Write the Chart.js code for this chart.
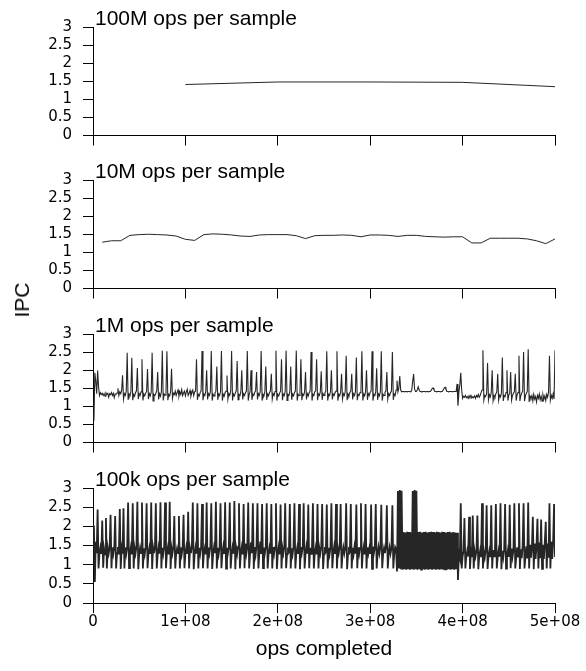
<!DOCTYPE html>
<html><head><meta charset="utf-8">
<script src="https://cdn.jsdelivr.net/npm/chart.js@4.4.1/dist/chart.umd.min.js"></script>
<style>
html,body{margin:0;padding:0;background:#fff;width:586px;height:671px;overflow:hidden;}
.panel{position:absolute;left:0;width:586px;}
#ipc{position:absolute;left:22px;top:300px;transform:translate(-50%,-50%) rotate(-90deg);font:21px "Liberation Sans",Arial,sans-serif;color:#000;white-space:nowrap;}
</style></head><body>
<div class="panel" style="top:0px;height:154px"><canvas id="c0"></canvas></div>
<div class="panel" style="top:153px;height:154px"><canvas id="c1"></canvas></div>
<div class="panel" style="top:307px;height:154px"><canvas id="c2"></canvas></div>
<div class="panel" style="top:461px;height:208px"><canvas id="c3"></canvas></div>
<div id="ipc">IPC</div>
<script>
const panelTitles = ["100M ops per sample","10M ops per sample","1M ops per sample","100k ops per sample"];
const xTickLabels = ["0","1e+08","2e+08","3e+08","4e+08","5e+08"];
const yTickLabels = ["0","0.5","1","1.5","2","2.5","3"];
const xAxisTitle = "ops completed";
const yAxisTitle = "IPC";

// ops per plotted sample for each panel
const sampleSteps = [1e8, 1e7, 1e6, 1e6];

const ipc100M = [1.41,1.48,1.48,1.47,1.35];

const ipc10M = [
1.28,1.32,1.32,1.47,1.49,1.50,1.49,1.48,1.45,1.36,
1.33,1.49,1.51,1.50,1.48,1.45,1.44,1.48,1.49,1.49,
1.49,1.46,1.38,1.46,1.47,1.47,1.48,1.47,1.43,1.48,
1.48,1.47,1.44,1.47,1.47,1.44,1.43,1.42,1.43,1.43,
1.26,1.26,1.39,1.39,1.39,1.39,1.37,1.32,1.24,1.37];

const ipc1M = [
0.6,1.93,1.7,1.35,1.99,1.55,1.3,1.38,1.33,1.36,
1.3,1.35,1.28,1.37,1.33,1.36,1.25,1.35,1.32,1.38,
1.3,1.36,1.24,1.34,1.33,1.37,1.5,1.3,1.4,1.35,
1.45,1.86,1.2,1.35,1.3,1.42,2.48,1.18,1.34,1.3,
1.4,2.34,1.17,1.33,1.28,1.38,1.42,2.06,1.2,1.35,
1.3,1.4,2.3,1.16,1.34,1.29,1.37,1.41,2.03,1.2,
1.35,1.29,1.39,2.48,1.15,1.33,1.3,1.36,1.43,1.95,
1.19,1.35,1.28,1.4,2.54,1.16,1.34,1.31,1.4,2.52,
1.17,1.33,1.29,1.41,2.04,1.22,1.36,1.32,1.42,1.3,
1.38,1.45,1.28,1.4,1.33,1.46,1.3,1.37,1.42,1.29,
1.4,1.47,1.3,1.36,1.44,1.28,1.38,1.45,1.3,1.4,
1.42,2.3,1.18,1.33,1.29,1.38,1.43,2.53,1.17,1.34,
1.3,1.41,2.0,1.19,1.35,1.3,1.4,2.53,1.16,1.33,
1.29,1.37,1.42,2.1,1.18,1.34,1.3,1.41,2.53,1.16,
1.33,1.28,1.38,1.42,1.85,1.2,1.35,1.3,1.42,2.53,
1.16,1.34,1.29,1.37,1.43,2.25,1.18,1.33,1.3,1.4,
2.0,1.19,1.35,1.3,1.38,1.42,2.53,1.16,1.33,1.4,
2.0,1.18,1.34,1.3,1.39,1.43,1.95,1.19,1.35,1.3,
1.41,2.53,1.16,1.33,1.3,1.4,2.1,1.18,1.34,1.29,
1.38,1.42,1.9,1.2,1.35,1.3,1.41,2.54,1.16,1.33,
1.29,1.37,1.42,2.3,1.17,1.34,1.3,1.41,2.54,1.16,
1.33,1.3,1.4,2.1,1.18,1.34,1.29,1.38,1.42,2.54,
1.16,1.33,1.3,1.41,2.3,1.17,1.34,1.3,1.4,1.95,
1.19,1.35,1.29,1.38,1.42,2.5,1.16,1.33,1.3,1.4,
1.43,2.3,1.17,1.34,1.3,1.4,1.97,1.18,1.35,1.3,
1.38,1.42,2.52,1.16,1.33,1.3,1.41,2.0,1.19,1.34,
1.3,1.38,1.42,2.52,1.16,1.33,1.29,1.4,1.9,1.2,
1.35,1.3,1.41,2.4,1.17,1.34,1.29,1.38,1.42,1.9,
1.19,1.35,1.3,1.4,2.35,1.17,1.33,1.3,1.38,1.42,
2.52,1.16,1.34,1.29,1.41,2.0,1.18,1.35,1.3,1.39,
1.42,2.52,1.16,1.33,1.3,1.4,2.05,1.18,1.34,1.29,
1.41,2.52,1.16,1.33,1.3,1.39,1.42,1.95,1.2,1.35,
1.3,1.38,1.42,2.5,1.18,1.34,1.3,1.45,1.71,1.4,
1.5,1.84,1.45,1.4,1.41,1.41,1.4,1.41,1.41,1.4,
1.41,1.41,1.41,1.4,1.45,1.7,1.89,1.48,1.41,1.41,
1.46,1.54,1.45,1.41,1.41,1.4,1.41,1.41,1.41,1.4,
1.41,1.41,1.4,1.41,1.41,1.44,1.49,1.51,1.46,1.41,
1.41,1.4,1.41,1.41,1.41,1.4,1.41,1.41,1.45,1.5,
1.53,1.47,1.41,1.41,1.4,1.41,1.41,1.41,1.4,1.41,
1.41,1.41,1.41,1.62,1.02,1.4,1.6,1.93,1.45,1.22,
1.28,1.25,1.3,1.24,1.27,1.22,1.29,1.25,1.3,1.23,
1.27,1.24,1.29,1.22,1.3,1.26,1.33,1.25,1.3,1.38,
1.45,2.55,1.17,1.3,1.27,1.36,2.2,1.18,1.32,1.26,
1.38,2.0,1.16,1.3,1.25,1.35,1.4,1.9,1.17,1.31,
1.26,1.37,2.35,1.15,1.3,1.27,1.38,2.0,1.16,1.31,
1.36,1.95,1.17,1.3,1.36,1.4,1.9,1.16,1.32,1.38,
2.4,1.15,1.3,1.37,1.42,2.5,1.14,1.29,1.36,1.41,
2.58,1.12,1.28,1.22,1.3,1.15,1.33,1.2,1.27,1.12,
1.3,1.22,1.34,1.18,1.28,1.14,1.32,1.2,1.29,1.16,
1.33,1.25,1.4,2.4,1.17,1.3,1.22,1.35,1.2,2.55];

// 100k-ops panel at one value per 1M ops
const ipc100k = [
2.02,0.55,1.6,1.3,2.44,0.9,1.3,1.45,1.28,2.15,
0.92,1.42,1.27,2.22,0.9,1.44,1.29,1.43,2.3,0.91,
1.45,1.28,1.44,2.27,0.9,1.3,1.46,1.27,2.45,0.89,
1.43,1.29,2.47,0.9,1.45,1.28,1.44,2.62,0.91,1.3,
1.46,1.27,2.6,0.9,1.44,1.29,1.47,2.64,0.88,1.28,
1.45,1.3,2.62,0.9,1.43,1.27,1.46,2.6,0.91,1.29,
1.44,1.28,2.62,0.89,1.45,1.3,1.43,2.6,0.9,1.27,
1.46,1.29,2.63,0.9,1.44,1.28,1.47,2.62,0.91,1.3,
1.45,1.27,2.64,0.89,1.44,1.29,1.46,2.27,0.9,1.28,
1.43,1.3,2.27,0.9,1.45,1.27,1.44,2.3,0.91,1.29,
1.46,1.28,2.38,0.9,1.43,1.3,1.47,2.62,0.88,1.27,
1.45,1.29,2.6,0.9,1.44,1.28,1.46,2.58,0.91,1.3,
1.43,1.27,2.62,0.9,1.45,1.29,1.48,2.6,0.89,1.28,
1.46,1.3,2.64,0.9,1.44,1.27,1.45,2.6,0.91,1.29,
1.47,1.28,2.63,0.9,1.44,1.3,1.46,2.62,0.9,1.27,
1.45,1.29,2.66,0.88,1.43,1.28,1.47,2.6,0.9,1.3,
1.46,1.27,2.58,0.91,1.55,1.29,1.45,2.62,0.9,1.28,
1.58,1.3,2.6,0.89,1.46,1.27,1.5,2.6,0.9,1.29,
1.6,1.28,2.58,0.91,1.45,1.3,1.47,2.6,0.9,1.27,
1.44,1.29,2.58,0.9,1.46,1.28,1.45,2.6,0.89,1.3,
1.47,1.27,2.57,0.9,1.44,1.29,1.46,2.6,0.91,1.28,
1.45,1.3,2.58,0.9,1.43,1.27,1.47,2.6,0.9,1.29,
1.44,1.28,2.58,0.88,1.46,1.3,1.45,2.6,0.9,1.27,
1.47,1.29,2.57,0.91,1.44,1.28,1.46,2.6,0.9,1.3,
1.45,1.27,2.58,0.9,1.43,1.29,1.47,2.58,0.89,1.28,
1.46,1.3,2.57,0.9,1.44,1.27,1.45,2.6,0.91,1.29,
1.47,1.28,2.58,0.9,1.44,1.3,1.46,2.58,0.9,1.27,
1.45,1.29,1.43,2.6,0.88,1.28,1.46,1.3,2.58,0.9,
1.44,1.27,1.47,1.29,2.57,0.91,1.45,1.28,1.44,2.6,
0.9,1.3,1.46,1.27,2.58,0.9,1.45,1.29,1.43,1.28,
2.57,0.89,1.47,1.3,1.44,2.58,0.9,1.27,1.46,1.29,
1.45,2.56,0.91,1.28,1.44,1.3,1.47,2.55,0.9,1.27,
1.45,1.29,1.43,2.55,0.9,1.28,1.46,1.4,0.82,2.92,
0.9,2.95,0.88,2.93,0.87,1.85,0.88,1.84,0.87,1.86,
0.88,1.85,0.87,1.84,0.88,2.92,0.87,2.95,0.88,2.93,
0.87,1.85,0.88,1.86,0.87,1.84,0.88,1.85,0.87,1.86,
0.88,1.84,0.87,1.85,0.88,1.86,0.87,1.85,0.88,1.84,
0.87,1.86,0.88,1.85,0.87,1.84,0.88,1.86,0.87,1.85,
0.88,1.84,0.87,1.85,0.88,1.86,0.87,1.84,0.88,1.85,
0.87,1.84,0.88,1.83,0.6,1.3,1.18,2.6,0.9,1.22,
1.35,2.22,0.9,1.2,1.36,1.22,2.25,0.89,1.34,1.2,
2.28,0.9,1.36,1.21,1.35,2.28,0.88,1.22,1.37,1.2,
2.6,0.9,1.35,1.19,1.37,2.55,0.89,1.21,1.36,1.2,
2.55,0.9,1.38,1.22,1.35,2.58,0.9,1.2,1.37,1.21,
2.6,0.88,1.36,1.19,1.4,2.58,0.9,1.22,1.38,1.2,
2.56,0.91,1.42,1.2,1.37,2.6,0.9,1.18,1.45,1.21,
2.6,0.89,1.4,1.17,1.5,2.6,0.9,1.2,1.48,1.16,
2.62,0.9,1.52,1.18,1.45,2.25,0.88,1.55,1.15,1.5,
2.2,0.9,1.58,1.17,2.18,0.89,1.52,1.15,1.6,2.12,
0.9,1.55,1.18,2.6,0.9,1.6,1.15,1.62,2.58,1.2];

const seriesList = [ipc100M, ipc10M, ipc1M, ipc100k];
const lineWidths = [1, 1, 1.1, 1.8];

const FONT = '"Liberation Sans", Arial, Helvetica, sans-serif';
const TICK_FONT = '"DejaVu Sans", "Liberation Sans", Arial, sans-serif';
Chart.defaults.font.family = FONT;
Chart.defaults.color = '#000';

const panelTitlePlugin = {
  id: 'panelTitle',
  afterDraw(chart, args, opts) {
    const {ctx, chartArea} = chart;
    ctx.save();
    ctx.font = '21px ' + FONT;
    ctx.fillStyle = '#000';
    ctx.textAlign = 'left';
    ctx.textBaseline = 'alphabetic';
    ctx.fillText(opts.text, chartArea.left + 2, chartArea.top - 2);
    ctx.restore();
  }
};

function makePanel(k) {
  const isBottom = k === 3;
  const step = sampleSteps[k];
  const pts = seriesList[k].map((v, i) => ({x: (i + 1) * step, y: v}));
  const axisGrid = {display: true, drawOnChartArea: false, drawTicks: true, tickLength: 10, color: '#000', lineWidth: 1};
  const axisBorder = {display: true, color: '#000', width: 1};
  return new Chart(document.getElementById('c' + k), {
    type: 'line',
    data: {datasets: [{data: pts, borderColor: '#262626', borderWidth: lineWidths[k], pointRadius: 0, tension: 0, fill: false}]},
    options: {
      responsive: true, maintainAspectRatio: false, animation: false, events: [],
      normalized: true,
      layout: {padding: {top: 27, right: 31, bottom: 0, left: 0}},
      plugins: {legend: {display: false}, tooltip: {enabled: false}, panelTitle: {text: panelTitles[k]}},
      scales: {
        x: {
          type: 'linear', min: 0, max: 5e8,
          afterFit: s => { s.height = isBottom ? 66 : 12; },
          ticks: {display: isBottom, stepSize: 1e8, autoSkip: false, maxRotation: 0, padding: 0,
                  font: {size: 15, family: TICK_FONT}, color: '#000',
                  callback: v => xTickLabels[Math.round(v / 1e8)]},
          grid: axisGrid, border: axisBorder,
          title: {display: isBottom, text: xAxisTitle, font: {size: 21}, color: '#000', padding: {top: 0, bottom: 7}}
        },
        y: {
          type: 'linear', min: 0, max: 3,
          afterFit: s => { s.width = 93; },
          ticks: {stepSize: 0.5, autoSkip: false, padding: 11, font: {size: 15, family: TICK_FONT, lineHeight: 1}, color: '#000',
                  callback: v => yTickLabels[Math.round(v / 0.5)]},
          grid: axisGrid, border: axisBorder
        }
      }
    },
    plugins: [panelTitlePlugin]
  });
}
for (let k = 0; k < 4; k++) makePanel(k);
document.getElementById('ipc').textContent = yAxisTitle;
</script>
</body></html>
